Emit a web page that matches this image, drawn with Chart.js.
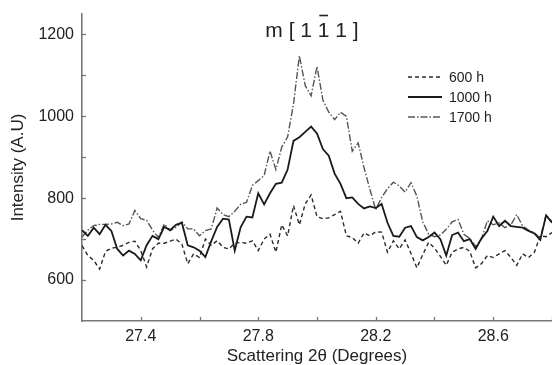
<!DOCTYPE html>
<html><head><meta charset="utf-8">
<script src="https://cdn.jsdelivr.net/npm/chart.js@4.4.0/dist/chart.umd.min.js"></script>
<style>html,body{margin:0;padding:0;background:#fff}#wrap{width:552px;height:365px}</style>
</head><body><div id="wrap"><canvas id="c" width="552" height="365"></canvas></div>
<script>
const theta = [27.20,27.22,27.24,27.26,27.28,27.30,27.32,27.34,27.36,27.38,
27.40,27.42,27.44,27.46,27.48,27.50,27.52,27.54,27.56,27.58,
27.60,27.62,27.64,27.66,27.68,27.70,27.72,27.74,27.76,27.78,
27.80,27.82,27.84,27.86,27.88,27.90,27.92,27.94,27.96,27.98,
28.00,28.02,28.04,28.06,28.08,28.10,28.12,28.14,28.16,28.18,
28.20,28.22,28.24,28.26,28.28,28.30,28.32,28.34,28.36,28.38,
28.40,28.42,28.44,28.46,28.48,28.50,28.52,28.54,28.56,28.58,
28.60,28.62,28.64,28.66,28.68,28.70,28.72,28.74,28.76,28.78,28.80];
const h600 = [684,660,648,627,670,678,680,685,692,695,
672,632,676,690,690,695,700,688,640,664,
655,700,685,696,680,676,690,692,690,696,
672,700,712,668,735,708,782,735,786,808,
755,750,752,760,768,708,704,690,715,708,
718,717,668,696,676,698,665,630,662,692,
678,658,636,668,676,680,670,630,640,660,
655,664,672,655,636,664,655,668,708,706,716];
const h1000 = [722,708,728,712,735,720,676,660,672,664,
648,685,708,700,730,722,735,740,685,680,
672,656,695,730,750,748,672,729,755,753,
812,785,812,835,838,870,940,949,962,975,
958,920,904,860,835,800,802,786,775,780,
776,786,740,708,706,728,732,705,697,705,
716,700,660,710,716,695,700,676,702,720,
755,732,745,732,730,728,720,714,698,758,740];
const h1700 = [705,722,733,736,736,737,741,733,737,770,
750,746,722,704,737,721,729,742,725,725,
708,721,725,776,760,755,768,785,790,831,
843,855,915,870,925,950,1030,1148,1075,1050,
1122,1040,1010,992,1010,1000,915,935,875,822,
772,802,823,839,830,815,838,805,742,712,
706,710,724,742,748,712,702,682,700,745,
735,740,728,735,760,732,722,716,702,760,742];
const seriesLabels = ['600 h','1000 h','1700 h'];
const xTickLabels = ['27.4','27.8','28.2','28.6'];
const yTickLabels = ['600','800','1000','1200'];
const titleParts = ['m [ 1 ', '1', ' 1 ]'];
const FONT = '"Liberation Sans", Arial, Helvetica, sans-serif';

function pts(arr){ return theta.map((t,i)=>({x:t,y:arr[i]})); }

const inwardTicks = {
  id:'inwardTicks',
  afterDraw(chart){
    const {ctx, chartArea:a, scales:{x,y}} = chart;
    ctx.save();
    ctx.strokeStyle='#777'; ctx.lineWidth=1.3;
    x.ticks.forEach(t=>{ const px=Math.round(x.getPixelForValue(t.value))+0.5;
      if(px<=a.left+2) return;
      ctx.beginPath(); ctx.moveTo(px,a.bottom); ctx.lineTo(px,a.bottom-4); ctx.stroke(); });
    y.ticks.forEach(t=>{ const py=Math.round(y.getPixelForValue(t.value))+0.5;
      if(py>=a.bottom-2) return;
      ctx.beginPath(); ctx.moveTo(a.left,py); ctx.lineTo(a.left+4,py); ctx.stroke(); });
    ctx.restore();
  }
};

const titleAndLegend = {
  id:'titleAndLegend',
  afterDraw(chart){
    const ctx = chart.ctx;
    ctx.save();
    ctx.fillStyle='#222';
    ctx.font = '21px '+FONT;
    const full = titleParts.join('');
    const w = ctx.measureText(full).width;
    const cx = 312, base = 37;
    const x0 = cx - w/2;
    ctx.textBaseline='alphabetic'; ctx.textAlign='left';
    ctx.fillText(full, x0, base);
    const pre = ctx.measureText(titleParts[0]).width;
    const one = ctx.measureText(titleParts[1]).width;
    ctx.strokeStyle='#222'; ctx.lineWidth=1.6;
    ctx.beginPath(); ctx.moveTo(x0+pre+1.5, 15.5); ctx.lineTo(x0+pre+one-1.5, 15.5); ctx.stroke();
    ctx.font = '14px '+FONT;
    ctx.textBaseline='middle';
    chart.data.datasets.forEach((ds,i)=>{
      const yy = 77 + i*20;
      ctx.save();
      ctx.strokeStyle = ds.borderColor; ctx.lineWidth = ds.borderWidth;
      ctx.setLineDash(ds.borderDash||[]);
      ctx.beginPath(); ctx.moveTo(408,yy); ctx.lineTo(442,yy); ctx.stroke();
      ctx.restore();
      ctx.fillStyle='#222';
      ctx.fillText(ds.label, 449, yy+1);
    });
    ctx.restore();
  }
};

new Chart(document.getElementById('c'), {
  type:'line',
  data:{ datasets:[
    {label:seriesLabels[0], data:pts(h600), borderColor:'#2a2a2a', borderWidth:1.4, borderDash:[4,3], pointRadius:0, tension:0, fill:false},
    {label:seriesLabels[1], data:pts(h1000), borderColor:'#1a1a1a', borderWidth:1.8, borderDash:[], pointRadius:0, tension:0, fill:false},
    {label:seriesLabels[2], data:pts(h1700), borderColor:'#555', borderWidth:1.4, borderDash:[7,2,1.5,2], pointRadius:0, tension:0, fill:false}
  ]},
  options:{
    responsive:false, animation:false, devicePixelRatio:1,
    layout:{padding:{top:14,right:0,left:0,bottom:0}},
    plugins:{legend:{display:false}, tooltip:{enabled:false}, title:{display:false}},
    scales:{
      x:{ type:'linear', min:27.2, max:28.8,
        afterFit(s){ s.height = 44; s.paddingLeft = 0; s.paddingRight = 0; },
        ticks:{ stepSize:0.2, autoSkip:false, maxRotation:0, padding:6, color:'#222',
          font:{family:FONT,size:16},
          callback:v=>{ const s=Number(v).toFixed(1); return xTickLabels.includes(s)?s:''; } },
        grid:{display:false, drawOnChartArea:false, drawTicks:false},
        border:{display:true, color:'#777', width:1.6},
        title:{display:true, text:'Scattering 2θ (Degrees)', color:'#222',
          font:{family:FONT,size:17,lineHeight:1}, padding:{top:0,bottom:0}}
      },
      y:{ type:'linear', min:500, max:1250,
        afterFit(s){ s.width = 82; s.paddingTop = 0; s.paddingBottom = 0; },
        afterBuildTicks(s){ s.ticks = s.ticks.filter(t=>t.value<=1200); },
        ticks:{ stepSize:100, autoSkip:false, padding:8, color:'#222',
          font:{family:FONT,size:16},
          callback:v=>{ const s=String(Math.round(v)); return yTickLabels.includes(s)?s:''; } },
        grid:{display:false, drawOnChartArea:false, drawTicks:false},
        border:{display:true, color:'#777', width:1.6},
        title:{display:true, text:'Intensity (A.U)', color:'#222',
          font:{family:FONT,size:17,lineHeight:1}, padding:{top:10,bottom:0}}
      }
    }
  },
  plugins:[inwardTicks, titleAndLegend]
});
</script></body></html>
